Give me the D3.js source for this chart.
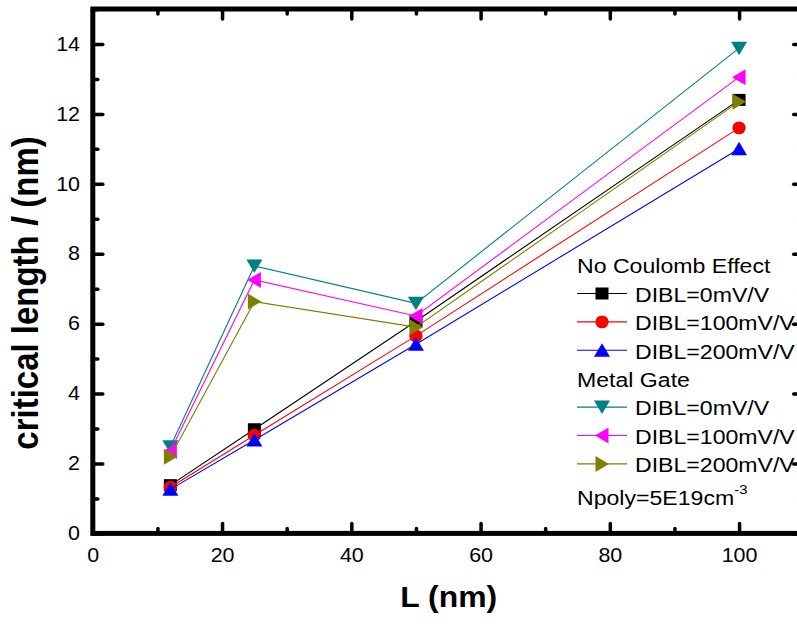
<!DOCTYPE html>
<html>
<head>
<meta charset="utf-8">
<script src="https://cdn.jsdelivr.net/npm/d3@7"></script>
<style>
  body { margin: 0; background: #fff; }
  svg { display: block; font-family: "Liberation Sans", Arial, sans-serif; }
</style>
</head>
<body>
<div id="chart"></div>
<script>
// channel length (nm) on x
var lengths = [12, 25, 50, 100];

// critical length l (nm)
var noCoulomb0   = [1.38, 2.98, 6.07, 12.40];
var noCoulomb100 = [1.32, 2.81, 5.65, 11.60];
var noCoulomb200 = [1.26, 2.67, 5.41, 11.00];
var metal0   = [2.48, 7.65, 6.58, 13.88];
var metal100 = [2.36, 7.25, 6.22, 13.05];
var metal200 = [2.19, 6.63, 5.90, 12.35];

var xTicks = [0, 20, 40, 60, 80, 100];
var xMinor = [10, 30, 50, 70, 90, 110];
var yTicks = [0, 2, 4, 6, 8, 10, 12, 14];
var yMinor = [1, 3, 5, 7, 9, 11, 13, 15];

var groups = [
  { title: "No Coulomb Effect", series: [
    { name: "DIBL=0mV/V",   values: noCoulomb0,   color: "#000000", sym: "square" },
    { name: "DIBL=100mV/V", values: noCoulomb100, color: "#ff0000", sym: "circle" },
    { name: "DIBL=200mV/V", values: noCoulomb200, color: "#0000ff", sym: "up" } ] },
  { title: "Metal Gate", series: [
    { name: "DIBL=0mV/V",   values: metal0,   color: "#008080", sym: "down" },
    { name: "DIBL=100mV/V", values: metal100, color: "#ff00ff", sym: "left" },
    { name: "DIBL=200mV/V", values: metal200, color: "#808000", sym: "right" } ] }
];

var width = 797, height = 624;
var stretch = 1.1; // text in the picture is a bit wide

var svg = d3.select("#chart").append("svg").attr("width", width).attr("height", height);

var x = d3.scaleLinear().domain([0, 110]).range([92.8, 803.7]);
var y = d3.scaleLinear().domain([0, 15]).range([533.4, 9.0]);

var symbolPath = function(type) {
  if (type == "square") return "M-6.5,-6h13v12h-13Z";
  if (type == "circle") return "M-6.7,0a6.7,6.4 0 1,0 13.4,0a6.7,6.4 0 1,0 -13.4,0Z";
  if (type == "up") return "M0,-7L8,6.5L-8,6.5Z";
  if (type == "down") return "M0,7L8,-6.5L-8,-6.5Z";
  if (type == "left") return "M-7,0L6.5,-8L6.5,8Z";
  return "M7,0L-6.5,-8L-6.5,8Z";
};

// axes: ticks point inward, thick black frame
var styleAxis = function(sel) {
  sel.select(".domain").remove();
  sel.selectAll(".tick line")
     .attr("stroke", "#000")
     .attr("stroke-width", 3.5)
     .attr("stroke-linecap", "round");
  sel.selectAll(".tick text")
     .attr("fill", "#000")
     .attr("font-size", 19.5)
     .attr("font-family", "Liberation Sans, Arial, sans-serif")
     .attr("transform", "scale(" + stretch + ",1)");
};

var addAxis = function(axis, tx, ty) {
  var g = svg.append("g").attr("transform", "translate(" + tx + "," + ty + ")").call(axis);
  styleAxis(g);
  return g;
};

addAxis(d3.axisBottom(x).tickValues(xTicks).tickSize(-10).tickPadding(14.5).tickFormat(d3.format("d")), 0, y(0));
addAxis(d3.axisBottom(x).tickValues(xMinor).tickSize(-5).tickFormat(""), 0, y(0));
addAxis(d3.axisLeft(y).tickValues(yTicks).tickSize(-10).tickPadding(11.6).tickFormat(d3.format("d")), x(0), 0);
addAxis(d3.axisLeft(y).tickValues(yMinor).tickSize(-5).tickFormat(""), x(0), 0);
addAxis(d3.axisTop(x).tickValues(xTicks).tickSize(-10).tickFormat(""), 0, y(15));
addAxis(d3.axisTop(x).tickValues(xMinor).tickSize(-5).tickFormat(""), 0, y(15));
addAxis(d3.axisRight(y).tickValues(yTicks).tickSize(-10).tickFormat(""), x(110), 0);
addAxis(d3.axisRight(y).tickValues(yMinor).tickSize(-5).tickFormat(""), x(110), 0);

svg.append("rect")
   .attr("x", x(0)).attr("y", y(15))
   .attr("width", x(110) - x(0)).attr("height", y(0) - y(15))
   .attr("fill", "none").attr("stroke", "#000").attr("stroke-width", 5);

// data lines and markers, one series after the other
var line = d3.line()
    .x(function(d, i) { return x(lengths[i]); })
    .y(function(d) { return y(d); });

groups.forEach(function(grp) {
  grp.series.forEach(function(s) {
    svg.append("path")
       .datum(s.values)
       .attr("fill", "none")
       .attr("stroke", s.color)
       .attr("stroke-width", 1.1)
       .attr("d", line);
    svg.selectAll(null)
       .data(s.values)
       .enter().append("path")
       .attr("transform", function(d, i) { return "translate(" + x(lengths[i]) + "," + y(d) + ")"; })
       .attr("d", symbolPath(s.sym))
       .attr("fill", s.color);
  });
});

// text helper, stretched horizontally like the original
var addText = function(px, py, str, size, weight) {
  return svg.append("g").attr("transform", "translate(" + px + "," + py + ")")
    .append("text")
    .attr("transform", "scale(" + stretch + ",1)")
    .attr("font-size", size)
    .attr("font-weight", weight || "normal")
    .attr("fill", "#000")
    .text(str);
};

// legend
var legendX = 577, rowH = 28.4;
var baseline = 273.3;
groups.forEach(function(grp) {
  addText(legendX, baseline, grp.title, 21);
  baseline += rowH;
  grp.series.forEach(function(s) {
    var cy = baseline - 8.2;
    svg.append("line")
       .attr("x1", legendX).attr("x2", legendX + 50)
       .attr("y1", cy).attr("y2", cy)
       .attr("stroke", s.color).attr("stroke-width", 1.1);
    svg.append("path")
       .attr("transform", "translate(" + (legendX + 25) + "," + cy + ")")
       .attr("d", symbolPath(s.sym))
       .attr("fill", s.color);
    addText(635, baseline, s.name, 21);
    baseline += rowH;
  });
});

var npoly = addText(legendX, 505, "Npoly=5E19cm", 21);
npoly.append("tspan").attr("font-size", 13.5).attr("dy", -11.5).text("-3");

// axis titles
addText(448.7, 606.7, "L (nm)", 29, "bold").attr("text-anchor", "middle");

var yTitle = svg.append("text")
   .attr("transform", "translate(37.5,293) scale(" + stretch + ",1) rotate(-90)")
   .attr("text-anchor", "middle")
   .attr("font-size", 33)
   .attr("font-weight", "bold")
   .attr("fill", "#000");
yTitle.append("tspan").text("critical length ");
yTitle.append("tspan").attr("font-style", "italic").text("l");
yTitle.append("tspan").text(" (nm)");
</script>
</body>
</html>
